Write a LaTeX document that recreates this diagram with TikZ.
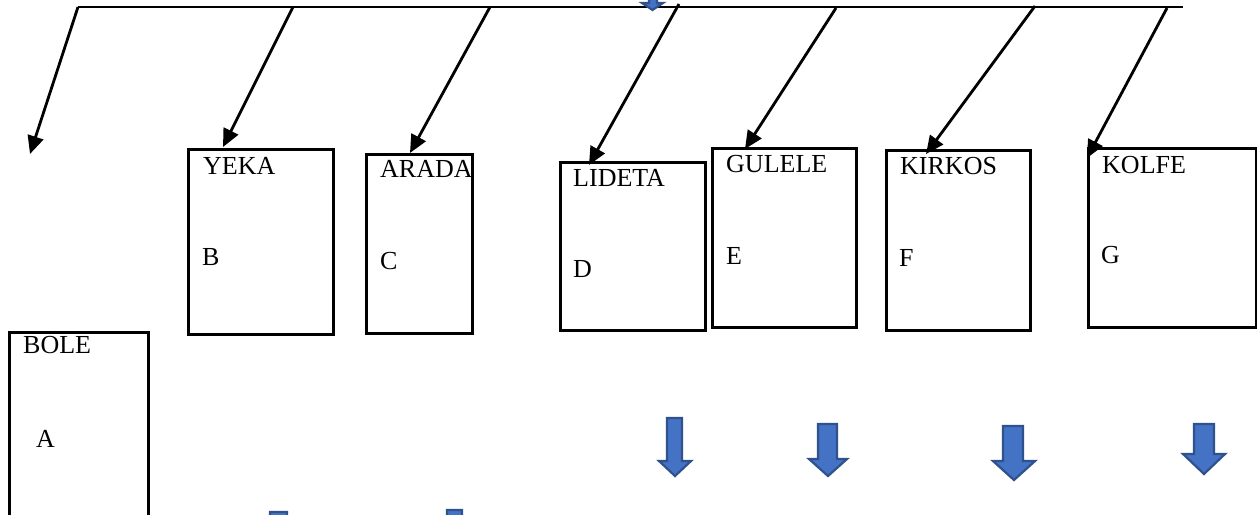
\documentclass[tikz,border=0pt]{standalone}
\usepackage{fontspec}
\setmainfont{Liberation Serif}
\usetikzlibrary{arrows.meta}
\definecolor{blkfill}{HTML}{4472C4}
\definecolor{blkline}{HTML}{2F528F}
\newcommand{\downblock}[7]{\draw[blockarr] (#1,#3) -- (#2,#3) -- (#2,#6) -- (#5,#6) -- ({(#4+#5)/2},#7) -- (#4,#6) -- (#1,#6) -- cycle;}
\begin{document}
\begin{tikzpicture}[x=1pt,y=-1pt,
  box/.style={draw, line width=2.6pt, anchor=north west, inner sep=0pt},
  lbl/.style={anchor=base west, inner sep=0pt, font=\fontsize{26}{30}\selectfont},
  conn/.style={line width=2.8pt, -{Triangle[length=18pt,width=16pt]}},
  blockarr/.style={fill=blkfill, draw=blkline, line width=2.2pt, line join=miter}]
\clip (0,0) rectangle (1257,514);
\fill[white] (0,0) rectangle (1257,514);

% boxes
\node[box, minimum width=139pt, minimum height=200pt] (bole) at (8,331) {};
\node[box, minimum width=145pt, minimum height=185pt] (yeka) at (187,148) {};
\node[box, minimum width=106pt, minimum height=179pt] (arada) at (365,153) {};
\node[box, minimum width=145pt, minimum height=168pt] (lideta) at (559,161) {};
\node[box, minimum width=144pt, minimum height=179pt] (gulele) at (711,147) {};
\node[box, minimum width=144pt, minimum height=180pt] (kirkos) at (885,149) {};
\node[box, minimum width=168pt, minimum height=179pt] (kolfe) at (1087,147) {};

% labels
\node[lbl] (tbole) at (23,353) {BOLE};
\node[lbl] (ta) at (36,447) {A};
\node[lbl] (tyeka) at (203,174) {YEKA};
\node[lbl] (tb) at (202,265) {B};
\node[lbl] (tarada) at (380,177) {ARADA};
\node[lbl] (tc) at (380,269) {C};
\node[lbl] (tlideta) at (573,186) {LIDETA};
\node[lbl] (td) at (573,277) {D};
\node[lbl] (tgulele) at (726,172) {GULELE};
\node[lbl] (te) at (726,264) {E};
\node[lbl] (tkirkos) at (900,174) {KIRKOS};
\node[lbl] (tf) at (899,266) {F};
\node[lbl] (tkolfe) at (1102,173) {KOLFE};
\node[lbl] (tg) at (1101,263) {G};

% horizontal bar
\coordinate (barL) at (78,7);
\coordinate (barR) at (1183,7);
\draw[line width=2.8pt] (barL) -- (barR);

% start points on/near bar
\coordinate (s1) at (78,7);
\coordinate (s2) at (293,7);
\coordinate (s3) at (490,7);
\coordinate (s4) at (679,4);
\coordinate (s5) at (836,8);
\coordinate (s6) at (1035,6);
\coordinate (s7) at (1167,8);
% tips
\coordinate (e1) at (30,154);
\coordinate (e2) at (223,147);
\coordinate (e3) at (410,153);
\coordinate (e4) at (589,165);
\coordinate (e5) at (745,149);
\coordinate (e6) at (926,154);
\coordinate (e7) at (1087,158);

\draw[conn] (s1) -- (e1);
\draw[conn] (s2) -- (e2);
\draw[conn] (s3) -- (e3);
\draw[conn] (s4) -- (e4);
\draw[conn] (s5) -- (e5);
\draw[conn] (s6) -- (e6);
\draw[conn] (s7) -- (e7);

% blue block arrows
\downblock{649}{657}{-30}{642}{663}{3}{10}
\downblock{667}{682}{418}{659}{691}{461}{476}
\downblock{818}{837}{424}{809}{847}{459}{476}
\downblock{1003}{1023}{426}{993}{1035}{461}{480}
\downblock{1194}{1214}{424}{1183}{1225}{454}{474}
\downblock{270}{287}{512}{262}{295}{555}{570}
\downblock{447}{462}{510}{439}{470}{553}{568}
\end{tikzpicture}
\end{document}
